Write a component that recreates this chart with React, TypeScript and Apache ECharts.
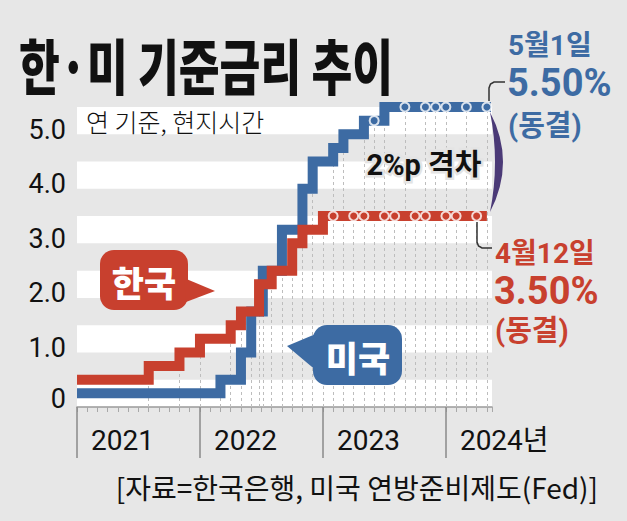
import { useEffect, useRef } from 'react';
import * as echarts from 'echarts';

// ---- data ----
const yTickValues = [0, 1, 2, 3, 4, 5];
const yTickLabels = ['0', '1.0', '2.0', '3.0', '4.0', '5.0'];
const yearTickMonths = ['2021-01', '2022-01', '2023-01', '2024-01'];
const yearLabels = ['2021', '2022', '2023', '2024년'];

// Korea (BOK base rate) – month of each change and new level
const koreaChangeMonths = ['2021-01', '2021-08', '2021-11', '2022-01', '2022-04', '2022-05', '2022-06-24', '2022-08', '2022-10', '2022-11', '2023-01'];
const koreaRates = [0.5, 0.75, 1.0, 1.25, 1.5, 1.75, 2.25, 2.5, 3.0, 3.25, 3.5];
const koreaHoldMonths = ['2023-02', '2023-04', '2023-05', '2023-07', '2023-08', '2023-10', '2023-11', '2024-01', '2024-02', '2024-04'];
const koreaHoldRates = [3.5, 3.5, 3.5, 3.5, 3.5, 3.5, 3.5, 3.5, 3.5, 3.5];
const koreaEndMonth = '2024-05-01';

// US (Fed funds upper bound)
const usChangeMonths = ['2021-01', '2022-03', '2022-05', '2022-06', '2022-07-05', '2022-09', '2022-11', '2022-12', '2023-02', '2023-03', '2023-05', '2023-07'];
const usRates = [0.25, 0.5, 1.0, 1.75, 2.5, 3.25, 4.0, 4.5, 4.75, 5.0, 5.25, 5.5];
const usHoldMonths = ['2023-06', '2023-09', '2023-11', '2023-12', '2024-01', '2024-03', '2024-05'];
const usHoldRates = [5.25, 5.5, 5.5, 5.5, 5.5, 5.5, 5.5];
const usEndMonth = '2024-05-13';

const X_MAX = 40.5; // months from Jan 2021

const BLUE = '#3d6ba3';
const RED = '#c8402e';
const BG = '#e7e7e7';

function toM(s: string): number {
  const p = s.split('-').map(Number);
  const d = p[2] ? (p[2] - 1) / 30 : 0;
  return (p[0] - 2021) * 12 + (p[1] - 1) + d;
}

function stepData(months: string[], rates: number[], end: string, endRate: number) {
  const pts = months.map((m, i) => [toM(m), rates[i]]);
  pts.push([toM(end), endRate]);
  return pts;
}

echarts.graphic.registerShape(
  'crescent',
  echarts.graphic.extendPath('M0,0 Q26,50 0,100 Q10,50 0,0 Z', {})
);

export default function App() {
  const ref = useRef<HTMLDivElement>(null);

  useEffect(() => {
    document.body.style.margin = '0';
    const chart = echarts.init(ref.current!, null, { renderer: 'svg' });

    const dashPairs: any[] = [];
    const addDash = (months: string[], rates: number[], skipFirst: boolean) => {
      months.forEach((m, i) => {
        if (skipFirst && i === 0) return;
        dashPairs.push([{ coord: [toM(m), 0] }, { coord: [toM(m), rates[i]] }]);
      });
    };
    addDash(usChangeMonths, usRates, true);
    addDash(usHoldMonths, usHoldRates, false);
    addDash(koreaChangeMonths, koreaRates, true);
    addDash(koreaHoldMonths, koreaHoldRates, false);

    const yearTicks = yearTickMonths.map(toM);
    const cjk = "'Noto Sans CJK KR', sans-serif";
    const num = "Roboto, 'Noto Sans CJK KR', sans-serif";

    const option: any = {
      animation: false,
      backgroundColor: BG,
      grid: { left: 77, right: 135, top: 107, bottom: 114, containLabel: false },
      xAxis: [
        {
          type: 'value', min: 0, max: X_MAX, interval: 1,
          axisLine: { show: true, lineStyle: { color: '#9a9a9a', width: 1.5 } },
          axisTick: { show: true, length: 5, lineStyle: { color: '#a8a8a8', width: 1 } },
          axisLabel: { show: false },
          splitLine: { show: false },
        },
        {
          type: 'value', gridIndex: 0, position: 'bottom', min: 0, max: X_MAX, interval: 12,
          axisLine: { show: false },
          axisTick: { show: true, length: 51, customValues: yearTicks, lineStyle: { color: '#8a8a8a', width: 1.5 } },
          axisLabel: {
            show: true, customValues: yearTicks,
            formatter: (v: number) => yearLabels[Math.round(v / 12)] ?? '',
            align: 'left', padding: [0, 0, 0, 14], margin: 19,
            fontSize: 28, color: '#111', fontFamily: num,
          },
          splitLine: { show: false },
        },
      ],
      yAxis: {
        type: 'value', min: 0, max: 5.5, interval: 0.5,
        axisLine: { show: false }, axisTick: { show: false }, splitLine: { show: false },
        splitArea: { show: true, areaStyle: { color: ['#ffffff', 'rgba(0,0,0,0)'] } },
        axisLabel: {
          customValues: yTickValues,
          formatter: (v: number) => {
            const t = yTickLabels[yTickValues.indexOf(Math.round(v))] ?? '';
            return v === 0 ? `{z|${t}}` : t;
          },
          rich: { z: { fontSize: 27, color: '#111', fontFamily: num, padding: [0, 0, 8, 0] } },
          fontSize: 27, color: '#111', margin: 11, padding: [0, 0, 9, 0], fontFamily: num,
        },
      },
      series: [
        {
          type: 'line', name: 'dash', data: [[0, 0]], showSymbol: false, z: 1,
          lineStyle: { opacity: 0 }, silent: true,
          markLine: {
            z: 1, silent: true, symbol: ['none', 'none'], label: { show: false },
            lineStyle: { type: [3, 3], color: '#bdbdbd', width: 1 },
            emphasis: { disabled: true },
            data: dashPairs,
          },
        },
        {
          type: 'line', name: '미국', step: 'end', z: 3, showSymbol: false, silent: true,
          data: stepData(usChangeMonths, usRates, usEndMonth, 5.5),
          lineStyle: { color: BLUE, width: 10, cap: 'butt', join: 'miter' },
        },
        {
          type: 'line', name: '한국', step: 'end', z: 4, showSymbol: false, silent: true,
          data: stepData(koreaChangeMonths, koreaRates, koreaEndMonth, 3.5),
          lineStyle: { color: RED, width: 10, cap: 'butt', join: 'miter' },
        },
        {
          type: 'scatter', z: 6, silent: true, symbol: 'circle', symbolSize: 9,
          data: usHoldMonths.map((m, i) => [toM(m), usHoldRates[i]]),
          itemStyle: { color: BLUE, borderColor: '#fff', borderWidth: 2 },
        },
        {
          type: 'scatter', z: 6, silent: true, symbol: 'circle', symbolSize: 9,
          data: koreaHoldMonths.map((m, i) => [toM(m), koreaHoldRates[i]]),
          itemStyle: { color: RED, borderColor: '#fff', borderWidth: 2 },
        },
      ],
      graphic: [
        {
          type: 'text', x: 19, y: 64, scaleX: 0.74, z: 100,
          style: { text: '한·미 기준금리 추이', fill: '#111', font: `900 60px ${cjk}`, textAlign: 'left', textVerticalAlign: 'middle' },
        },
        {
          type: 'text', x: 86, y: 121, z: 100,
          style: { text: '연 기준, 현지시간', fill: '#111', font: `300 25px ${cjk}`, textAlign: 'left', textVerticalAlign: 'middle' },
        },
        // Korea bubble
        { type: 'rect', z: 100, shape: { x: 100, y: 250, width: 88, height: 60, r: 14 }, style: { fill: RED } },
        { type: 'polygon', z: 100, shape: { points: [[184, 278], [215, 291], [186, 302]] }, style: { fill: RED } },
        {
          type: 'text', x: 144, y: 281, z: 101,
          style: { text: '한국', fill: '#fff', font: `900 35px ${cjk}`, textAlign: 'center', textVerticalAlign: 'middle' },
        },
        // US bubble
        { type: 'rect', z: 100, shape: { x: 313, y: 325, width: 89, height: 60, r: 14 }, style: { fill: BLUE } },
        { type: 'polygon', z: 100, shape: { points: [[287, 346], [318, 333], [318, 372]] }, style: { fill: BLUE } },
        {
          type: 'text', x: 358, y: 356, z: 101,
          style: { text: '미국', fill: '#fff', font: `900 35px ${cjk}`, textAlign: 'center', textVerticalAlign: 'middle' },
        },
        // gap label
        {
          type: 'text', x: 424, y: 165, z: 100,
          style: { text: '2%p 격차', fill: '#111', font: `bold 29px ${num}`, textAlign: 'center', textVerticalAlign: 'middle', stroke: '#e4e4e4', lineWidth: 5 },
        },
        { type: 'crescent', x: 490, y: 112, z: 100, style: { fill: '#4b3a77' } },
        // connectors
        { type: 'polyline', z: 100, shape: { points: [[489, 101], [489, 88], [490.5, 84], [494, 82], [505, 82]] }, style: { stroke: '#333', lineWidth: 1.5, fill: 'none' } },
        { type: 'polyline', z: 100, shape: { points: [[477, 222], [477, 242], [478.5, 246], [482, 248], [492, 248]] }, style: { stroke: '#333', lineWidth: 1.5, fill: 'none' } },
        // US labels
        { type: 'text', x: 508, y: 45, z: 100, style: { text: '5월1일', fill: BLUE, font: `bold 28px ${num}`, textAlign: 'left', textVerticalAlign: 'middle' } },
        { type: 'text', x: 507, y: 83, z: 100, style: { text: '5.50%', fill: BLUE, font: `bold 38px ${num}`, textAlign: 'left', textVerticalAlign: 'middle' } },
        { type: 'text', x: 508, y: 126, z: 100, style: { text: '(동결)', fill: BLUE, font: `bold 29px ${num}`, textAlign: 'left', textVerticalAlign: 'middle' } },
        // Korea labels
        { type: 'text', x: 495, y: 253, z: 100, style: { text: '4월12일', fill: RED, font: `bold 28px ${num}`, textAlign: 'left', textVerticalAlign: 'middle' } },
        { type: 'text', x: 494, y: 291, z: 100, style: { text: '3.50%', fill: RED, font: `bold 38px ${num}`, textAlign: 'left', textVerticalAlign: 'middle' } },
        { type: 'text', x: 495, y: 331, z: 100, style: { text: '(동결)', fill: RED, font: `bold 29px ${num}`, textAlign: 'left', textVerticalAlign: 'middle' } },
        // source
        { type: 'text', x: 598, y: 487, z: 100, style: { text: '[자료=한국은행, 미국 연방준비제도(Fed)]', fill: '#111', font: `28px ${cjk}`, textAlign: 'right', textVerticalAlign: 'middle' } },
      ],
    };

    chart.setOption(option);
    return () => chart.dispose();
  }, []);

  return (
    <div
      ref={ref}
      style={{ position: 'fixed', left: 0, top: 0, width: 627, height: 521, background: BG }}
    />
  );
}
